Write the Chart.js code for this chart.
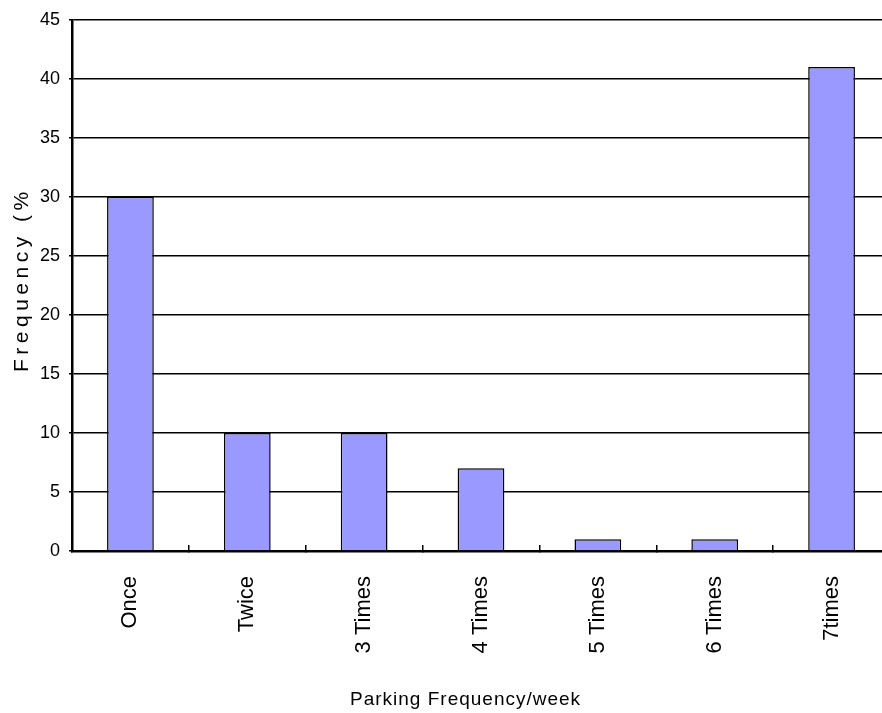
<!DOCTYPE html>
<html>
<head>
<meta charset="utf-8">
<script src="https://cdn.jsdelivr.net/npm/chart.js@4/dist/chart.umd.min.js"></script>
<style>
  html, body { margin: 0; padding: 0; background: #fff; overflow: hidden; }
  #wrap { width: 882px; height: 713px; overflow: hidden; }
  canvas { display: block; }
</style>
</head>
<body>
<div id="wrap"><canvas id="parking" width="900" height="713"></canvas></div>
<script>
/*************************************************
 * DATA
 *************************************************/
const categories = ['Once', 'Twice', '3 Times', '4 Times', '5 Times', '6 Times', '7times'];
const frequency = [30, 10, 10, 7, 1, 1, 41];
const yTicks = [0, 5, 10, 15, 20, 25, 30, 35, 40, 45];
const yTitle = 'Frequency (%';
const xTitle = 'Parking Frequency/week';

const FONT = '"Liberation Sans", Arial, sans-serif';

/*************************************************
 * AXIS TITLES (letter-spaced, drawn by hand)
 *************************************************/
const axisTitles = {
  id: 'axisTitles',
  afterDraw(chart) {
    const { ctx, chartArea } = chart;

    // vertical title
    ctx.save();
    ctx.fillStyle = '#000';
    ctx.font = '21px ' + FONT;
    ctx.letterSpacing = '4.5px';
    ctx.textAlign = 'left';
    ctx.textBaseline = 'alphabetic';
    ctx.translate(chartArea.left - 44, chartArea.bottom - 179);
    ctx.rotate(-Math.PI / 2);
    ctx.fillText(yTitle, 0, 0);
    ctx.restore();

    // horizontal title, top edge trimmed
    ctx.save();
    ctx.beginPath();
    ctx.rect(0, chartArea.bottom + 141, chart.width, 40);
    ctx.clip();
    ctx.fillStyle = '#000';
    ctx.font = '19px ' + FONT;
    ctx.letterSpacing = '1px';
    ctx.textAlign = 'left';
    ctx.textBaseline = 'alphabetic';
    ctx.fillText(xTitle, chartArea.left + 278, chartArea.bottom + 154);
    ctx.restore();
  }
};

/*************************************************
 * CHART
 *************************************************/
new Chart(document.getElementById('parking').getContext('2d'), {
  type: 'bar',
  data: {
    labels: categories,
    datasets: [{
      data: frequency,
      backgroundColor: '#9999ff',
      borderColor: '#000',
      borderWidth: 1.5,
      categoryPercentage: 1,
      barPercentage: 0.4
    }]
  },
  options: {
    responsive: false,
    animation: false,
    layout: { padding: { top: 18, right: 10, left: 0, bottom: 0 } },
    plugins: {
      legend: { display: false },
      tooltip: { enabled: false }
    },
    scales: {
      x: {
        afterFit: s => { s.height = 162; },
        border: { color: '#000', width: 2.5 },
        grid: {
          drawOnChartArea: false,
          color: '#000',
          lineWidth: 1.5,
          tickLength: -6
        },
        ticks: {
          color: '#000',
          font: { family: FONT, size: 22 },
          minRotation: 90,
          maxRotation: 90,
          padding: 31,
          autoSkip: false
        }
      },
      y: {
        min: 0,
        max: 45,
        afterFit: s => { s.width = 72; },
        afterBuildTicks: s => { s.ticks = yTicks.map(v => ({ value: v })); },
        border: { color: '#000', width: 2.5 },
        grid: {
          color: '#000',
          lineWidth: 1.6,
          tickLength: 3
        },
        ticks: {
          color: '#000',
          font: { family: FONT, size: 18 },
          padding: 9
        }
      }
    }
  },
  plugins: [axisTitles]
});
</script>
</body>
</html>
